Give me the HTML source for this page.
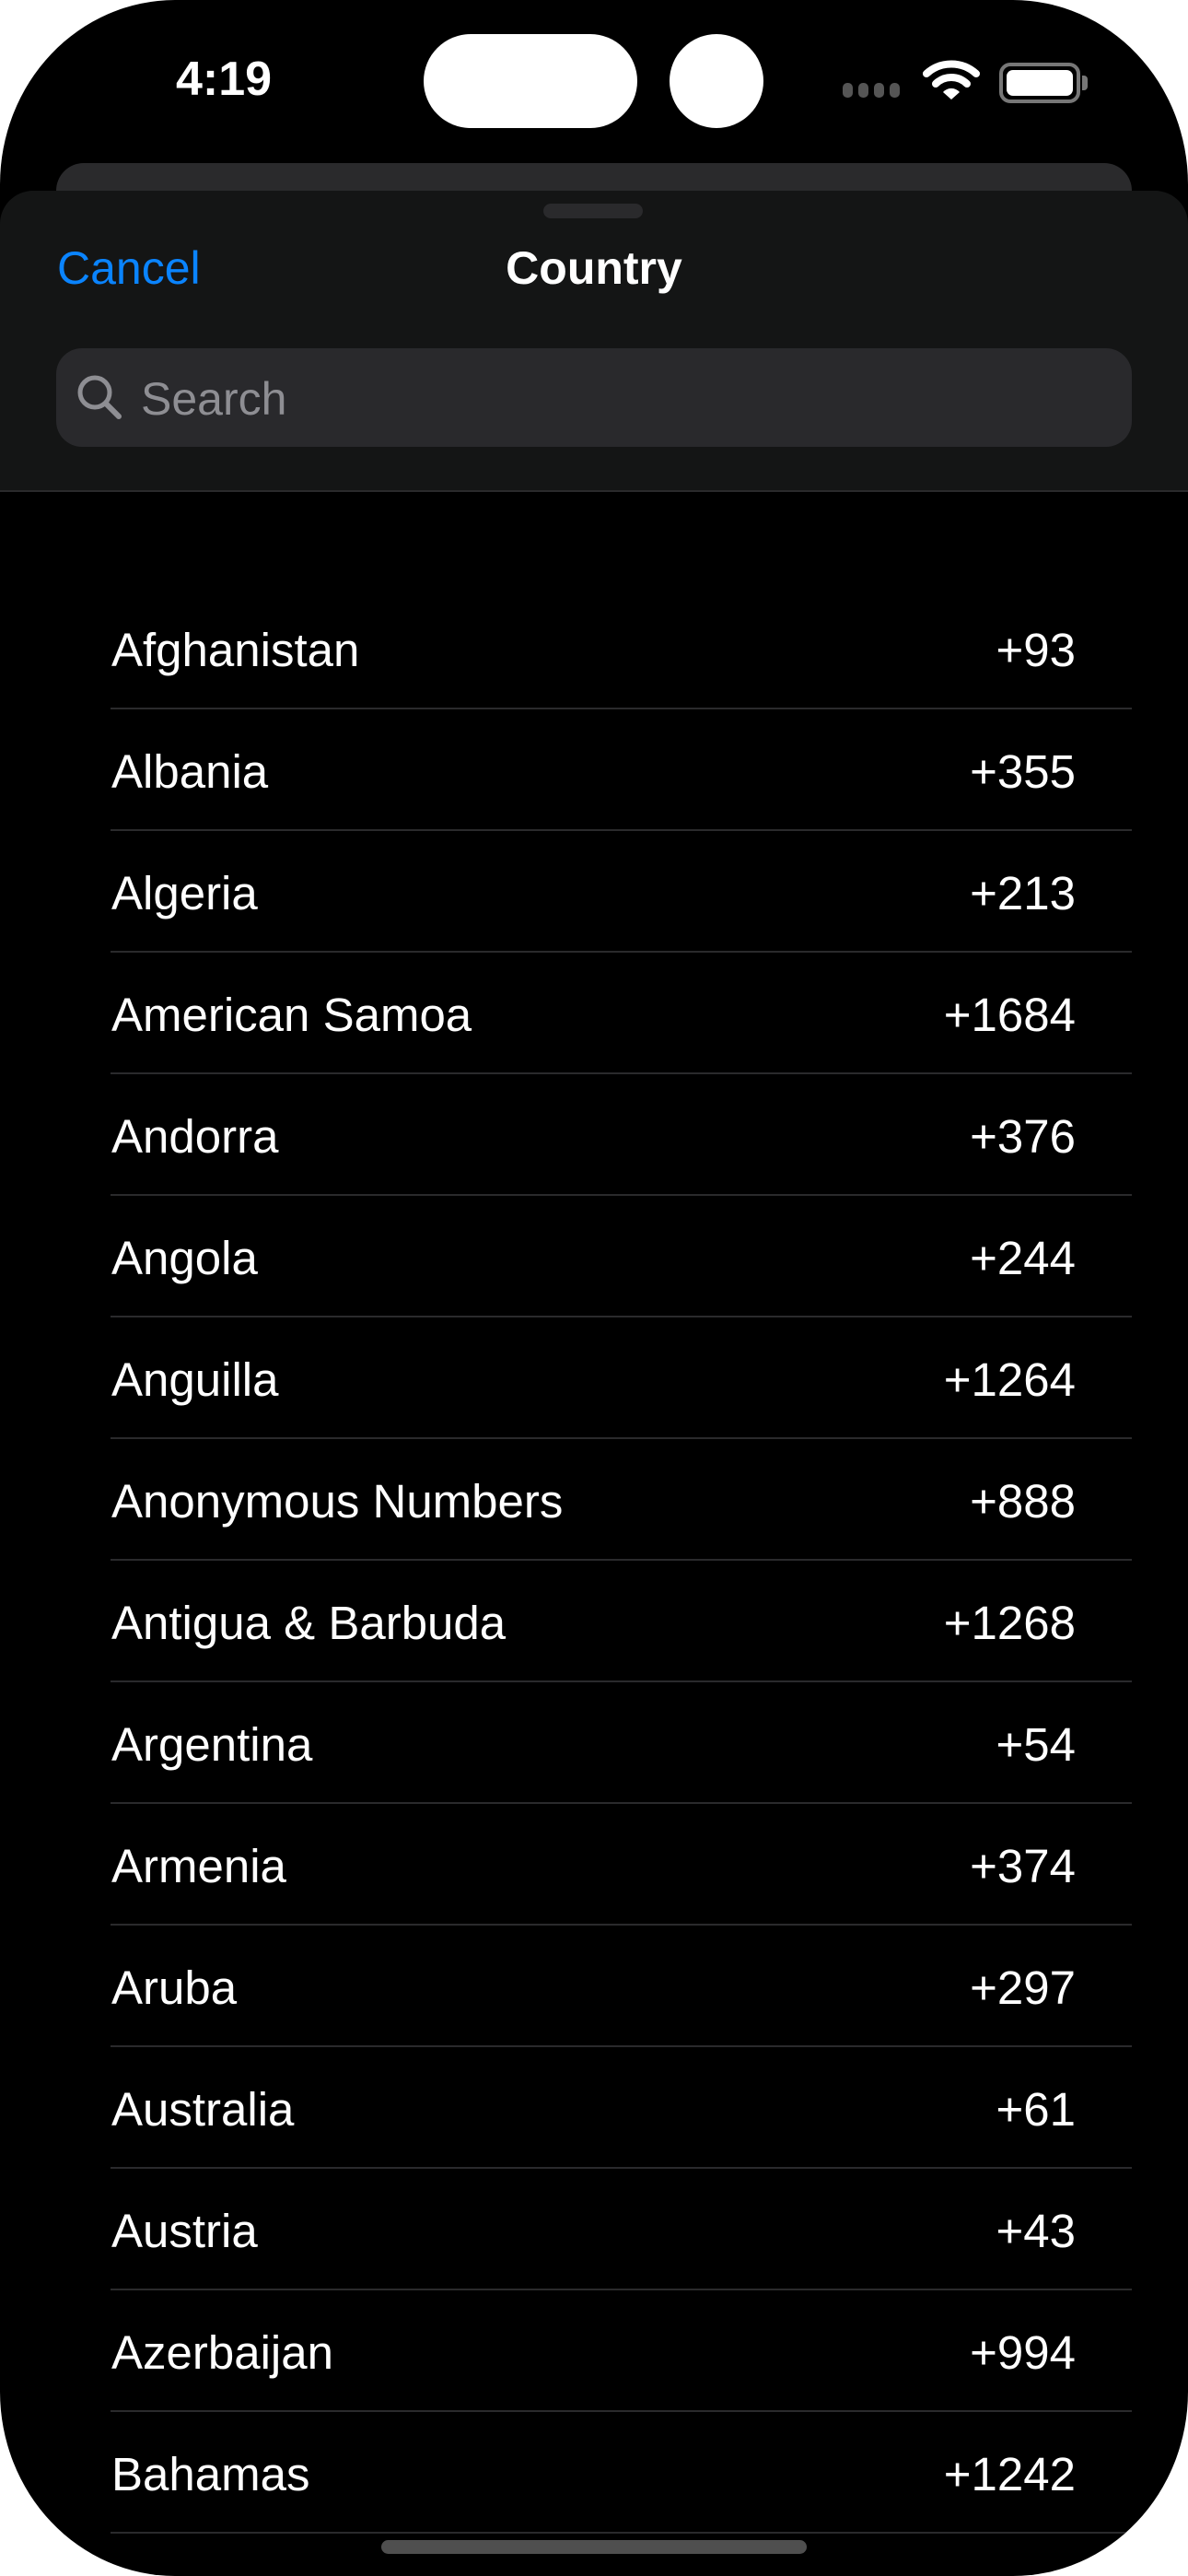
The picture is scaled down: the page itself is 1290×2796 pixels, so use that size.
<!DOCTYPE html>
<html><head><meta charset="utf-8">
<style>
html,body{margin:0;padding:0;background:#fff;}
body{width:1290px;height:2796px;position:relative;overflow:hidden;font-family:"Liberation Sans",sans-serif;}
#phone{position:absolute;left:0;top:0;width:1290px;height:2796px;background:#000;border-radius:190px/200px;overflow:hidden;}
.abs{position:absolute;}
#time{left:148px;top:56px;width:190px;text-align:center;color:#fff;font-size:52px;font-weight:bold;}
.row{position:absolute;left:120px;width:1109px;height:132px;border-bottom:2px solid #2a2a2c;box-sizing:border-box;}
.row .n{position:absolute;left:1px;top:38px;color:#fff;font-size:51px;}
.row .c{position:absolute;right:61px;top:38px;color:#fff;font-size:51px;}
</style></head><body>
<div id="phone">
  <div id="time" class="abs">4:19</div>
  <div class="abs" style="left:460px;top:37px;width:232px;height:102px;border-radius:51px/51px;background:#fff;"></div>
  <div class="abs" style="left:727px;top:37px;width:102px;height:102px;border-radius:50%;background:#fff;"></div>
  <div class="abs" style="left:915px;top:90px;">
    <span style="position:absolute;left:0;width:11px;height:16px;border-radius:5px;background:#555;"></span>
    <span style="position:absolute;left:17px;width:11px;height:16px;border-radius:5px;background:#555;"></span>
    <span style="position:absolute;left:34px;width:11px;height:16px;border-radius:5px;background:#555;"></span>
    <span style="position:absolute;left:51px;width:11px;height:16px;border-radius:5px;background:#555;"></span>
  </div>
  <svg class="abs" style="left:1002px;top:64px" width="62" height="46" viewBox="0 0 62 46">
    <path d="M4 16 A40 40 0 0 1 58 16" stroke="#fff" stroke-width="8" fill="none" stroke-linecap="round"/>
    <path d="M14 27 A24 24 0 0 1 48 27" stroke="#fff" stroke-width="8" fill="none" stroke-linecap="round"/>
    <path d="M31 44 L22 36 A12 12 0 0 1 40 36 Z" fill="#fff"/>
  </svg>
  <div class="abs" style="left:1085px;top:68px;width:80px;height:36px;border:4px solid #777;border-radius:12px;">
    <div style="position:absolute;left:4px;top:4px;width:72px;height:28px;background:#fff;border-radius:7px;"></div>
    <div style="position:absolute;left:86px;top:10px;width:6px;height:16px;background:#777;border-radius:0 4px 4px 0;"></div>
  </div>
  <div class="abs" style="left:61px;top:177px;width:1168px;height:120px;background:#2a2a2c;border-radius:30px;"></div>
  <div class="abs" style="left:0;top:207px;width:1290px;height:325px;background:#141515;border-radius:36px 36px 0 0;border-bottom:2px solid #2a2a2c;"></div>
  <div class="abs" style="left:590px;top:221px;width:108px;height:16px;border-radius:8px;background:#2a2a2c;"></div>
  <div class="abs" style="left:62px;top:262px;color:#0a84ff;font-size:50px;">Cancel</div>
  <div class="abs" style="left:445px;width:400px;text-align:center;top:262px;color:#fff;font-size:50px;font-weight:bold;">Country</div>
  <div class="abs" style="left:61px;top:378px;width:1168px;height:107px;background:#29292c;border-radius:28px;">
    <svg class="abs" style="left:22px;top:28px" width="52" height="52" viewBox="0 0 52 52">
      <circle cx="20" cy="20" r="16" stroke="#8e8e93" stroke-width="5" fill="none"/>
      <line x1="32" y1="32" x2="46" y2="46" stroke="#8e8e93" stroke-width="6" stroke-linecap="round"/>
    </svg>
    <div class="abs" style="left:92px;top:26px;color:#8e8e93;font-size:50px;">Search</div>
  </div>
  <div id="list"></div>
  <div class="abs" style="left:414px;top:2757px;width:462px;height:15px;border-radius:8px;background:#4f4f4f;"></div>
</div>
<script>
const countries=["Afghanistan","Albania","Algeria","American Samoa","Andorra","Angola","Anguilla","Anonymous Numbers","Antigua & Barbuda","Argentina","Armenia","Aruba","Australia","Austria","Azerbaijan","Bahamas"];
const codes=["+93","+355","+213","+1684","+376","+244","+1264","+888","+1268","+54","+374","+297","+61","+43","+994","+1242"];
const list=document.getElementById('list');
countries.forEach((c,i)=>{
  const r=document.createElement('div');
  r.className='row';
  r.style.top=(638+i*132)+'px';
  
  
  const n=document.createElement('span');n.className='n';n.textContent=c;
  
  
  const d=document.createElement('span');d.className='c';d.textContent=codes[i];
  
  
  r.appendChild(n);r.appendChild(d);list.appendChild(r);
});
</script>
</body></html>
